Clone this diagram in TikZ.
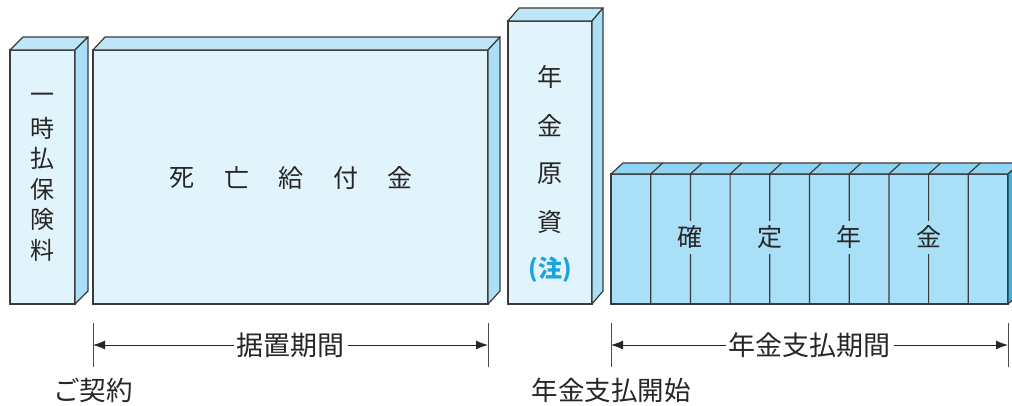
\documentclass[tikz,border=0pt]{standalone}
\usepackage{fontspec}
\setmainfont{Noto Sans CJK JP}
\usetikzlibrary{arrows.meta}

\definecolor{edgegray}{HTML}{3A3A3A}
\definecolor{palefront}{HTML}{E1F3FB}
\definecolor{paletop}{HTML}{BDE7F8}
\definecolor{paleside}{HTML}{AADFF7}
\definecolor{annfront}{HTML}{AADFF8}
\definecolor{anntop}{HTML}{8ED5F3}
\definecolor{annside}{HTML}{33B7EB}
\definecolor{notecyan}{HTML}{1BA3DD}

% top and right faces of a box drawn on a front node
\newcommand{\boxfaces}[5]{%
  \filldraw[face, fill=#4] (#1.north west) -- ++(#2,-#3) -- ([shift={(#2,-#3)}]#1.north east) -- (#1.north east) -- cycle;
  \filldraw[face, fill=#5] (#1.north east) -- ++(#2,-#3) -- ([shift={(#2,-#3)}]#1.south east) -- (#1.south east) -- cycle;
}

\begin{document}
\begin{tikzpicture}[x=1pt, y=-1pt,
    front/.style={draw=edgegray, line width=1.2pt, inner sep=0, outer sep=0},
    face/.style={draw=edgegray, line width=1.2pt, line join=round},
    boxtext/.style={font=\fontsize{24}{24}\selectfont, text=black!85, inner sep=0},
    anntext/.style={font=\fontsize{25}{25}\selectfont, text=black!85, fill=annfront, inner sep=0, minimum height=33pt, minimum width=28pt},
    tick/.style={draw=black!70, line width=0.9pt},
    dimline/.style={draw=black!85, line width=1pt, {Latex[length=12pt,width=9pt]}-{Latex[length=12pt,width=9pt]}},
    dimlabel/.style={font=\fontsize{27}{27}\selectfont, text=black!85, fill=white, inner xsep=3pt, inner ysep=0},
    steptext/.style={font=\fontsize{26.5}{26.5}\selectfont, text=black!85, inner sep=0}
  ]
  \clip (0,0) rectangle (1012,405);
  \fill[white] (0,0) rectangle (1012,405);

  % boxes
  \node[front, fill=palefront, minimum width=65pt, minimum height=254pt] (premium) at (42.5,177) {};
  \boxfaces{premium}{13}{13}{paletop}{paleside}
  \node[front, fill=palefront, minimum width=395pt, minimum height=254pt] (deferral) at (290.5,177) {};
  \boxfaces{deferral}{12}{13}{paletop}{paleside}
  \node[front, fill=palefront, minimum width=84pt, minimum height=283pt] (fund) at (550,162.5) {};
  \boxfaces{fund}{11}{13}{paletop}{paleside}
  \node[front, fill=annfront, minimum width=397pt, minimum height=130pt] (annuity) at (809.5,239) {};
  \boxfaces{annuity}{12}{11}{anntop}{annside}

  % annuity slices
  \foreach \i in {1,...,9}
    \draw[face] ([xshift=39.7*\i]annuity.south west) -- ([xshift=39.7*\i]annuity.north west) -- ++(12,-11);

  % box texts
  \foreach \c [count=\i from 0] in {一,時,払,保,険,料}
    \node[boxtext] (premium-\i) at (42,98+30.4*\i) {\c};
  \foreach \c [count=\i from 0] in {死,亡,給,付,金}
    \node[boxtext, font=\fontsize{25}{25}\selectfont] (deferral-\i) at (182+54.5*\i,178) {\c};
  \foreach \c [count=\i from 0] in {年,金,原,資}
    \node[boxtext, font=\fontsize{25}{25}\selectfont] (fund-\i) at (550,77+48.5*\i) {\c};
  \node[boxtext, font=\fontsize{24}{24}\selectfont\bfseries, text=notecyan] (note) at (550,270) {(注)};
  \foreach \c [count=\i] in {確,定,年,金}
    \node[anntext] (annuity-\i) at ([xshift=79.4*\i, yshift=2]annuity.west) {\c};

  % periods
  \coordinate (dimrow) at (0,345);
  \coordinate (labelrow) at (0,390);
  \coordinate (d1) at (deferral.south west |- dimrow);
  \coordinate (d2) at (deferral.south east |- dimrow);
  \coordinate (d3) at (annuity.south west |- dimrow);
  \coordinate (d4) at (annuity.south east |- dimrow);
  \foreach \d in {d1,d2,d3,d4}
    \draw[tick] (\d) ++(0,-22) -- ++(0,44);
  \draw[dimline] (d1) -- node[dimlabel] (deferlabel) {据置期間} (d2);
  \draw[dimline] (d3) -- node[dimlabel] (paylabel) {年金支払期間} (d4);

  \node[steptext] (contract) at (d1 |- labelrow) {ご契約};
  \node[steptext] (paystart) at (d3 |- labelrow) {年金支払開始};
\end{tikzpicture}
\end{document}
